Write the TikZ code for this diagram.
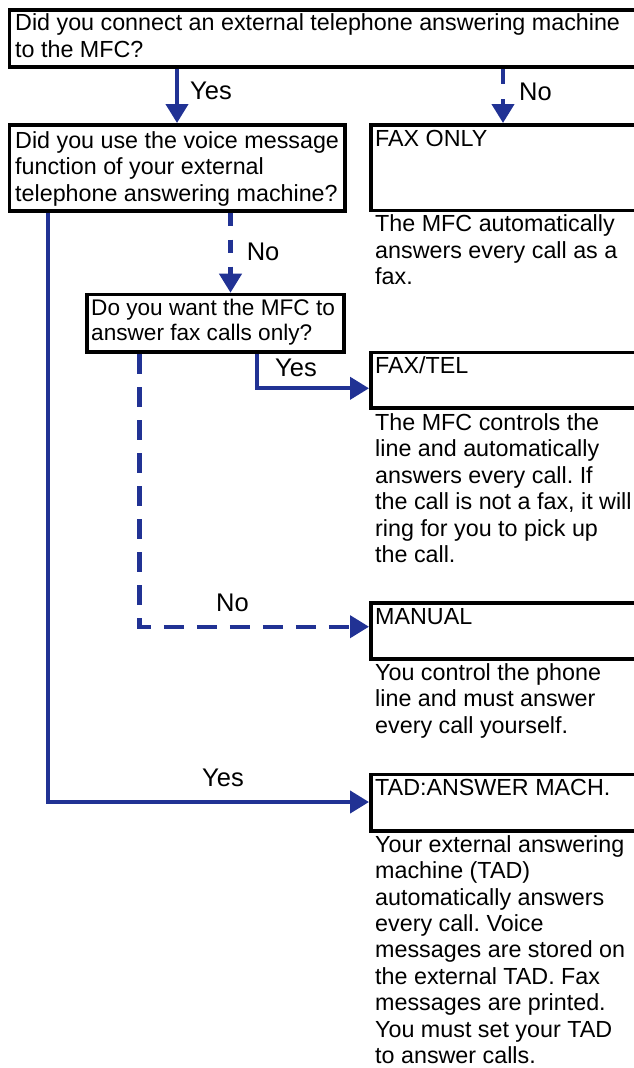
\documentclass[tikz,border=0pt]{standalone}
\usepackage{fontspec}
\setmainfont{Liberation Sans}
\usetikzlibrary{arrows.meta}
\definecolor{fblue}{RGB}{33,50,148}
\begin{document}
\begin{tikzpicture}[x=1pt,y=-1pt,
  box/.style={draw=black, line width=3.6pt, rectangle, inner sep=0pt, anchor=north west},
  txt/.style={inner sep=0pt, anchor=base west, align=left, font=\fontsize{23.3}{26.4}\selectfont\frenchspacing},
  lbl/.style={txt, font=\fontsize{25.5}{28}\selectfont},
  conn/.style={draw=fblue, line width=4.2pt, -{Triangle[length=19pt,width=22pt]}},
  dashconn/.style={conn, dash pattern=on 15pt off 15pt},
  longdash/.style={conn, dash pattern=on 20pt off 13pt},
]
\useasboundingbox (0,0) rectangle (634,1068);
\clip (0,0) rectangle (634,1068);
\fill[white] (0,0) rectangle (634,1068);

% boxes
\node[box, minimum width=689pt, minimum height=57.1pt] (q1) at (7.5,8.3) {};
\node[box, minimum width=335.4pt, minimum height=86.1pt] (q2) at (7.5,123) {};
\node[box, minimum width=327pt, minimum height=85.7pt] (rfax) at (369,123) {};
\node[box, minimum width=257.4pt, minimum height=57.7pt] (q3) at (85,292.7) {};
\node[box, minimum width=327pt, minimum height=55.7pt] (rtel) at (369,350.7) {};
\node[box, minimum width=327pt, minimum height=56.1pt] (rman) at (369,601) {};
\node[box, minimum width=327pt, minimum height=56.4pt] (rtad) at (369,772.7) {};

% texts (base anchor = baseline of the last line)
\node[txt] (q1t) at (15,57) {Did you connect an external telephone answering machine\\to the MFC?};
\node[txt] (q2t) at (15,201.3) {Did you use the voice message\\function of your external\\telephone answering machine?};
\node[txt, font=\fontsize{22.6}{25.5}\selectfont] (q3t) at (91,340.5) {Do you want the MFC to\\answer fax calls only?};
\node[txt] (faxt) at (375,146.7) {FAX ONLY};
\node[txt] (faxd) at (375,284.5) {The MFC automatically\\answers every call as a\\fax.};
\node[txt] (telt) at (375,373) {FAX/TEL};
\node[txt] (teld) at (375,562.5) {The MFC controls the\\line and automatically\\answers every call. If\\the call is not a fax, it will\\ring for you to pick up\\the call.};
\node[txt] (mant) at (375,624) {MANUAL};
\node[txt] (mand) at (375,733) {You control the phone\\line and must answer\\every call yourself.};
\node[txt] (tadt) at (375,795) {TAD:ANSWER MACH.};
\node[txt] (tadd) at (375,1063.5) {Your external answering\\machine (TAD)\\automatically answers\\every call. Voice\\messages are stored on\\the external TAD. Fax\\messages are printed.\\You must set your TAD\\to answer calls.};

% labels
\node[lbl] (l1) at (190,99.3) {Yes};
\node[lbl] (l2) at (519,100) {No};
\node[lbl] (l3) at (246.6,260) {No};
\node[lbl] (l4) at (275,376.7) {Yes};
\node[lbl] (l5) at (216,611.7) {No};
\node[lbl] (l6) at (202,786.7) {Yes};

% connectors
\coordinate (xa) at (177,0);
\coordinate (xb) at (503,0);
\coordinate (xc) at (230.5,0);
\coordinate (xd) at (257,0);
\coordinate (yd) at (0,388.3);
\coordinate (xe) at (139.5,0);
\coordinate (ye) at (0,626.7);
\coordinate (xf) at (48,0);
\coordinate (yf) at (0,802);

\draw[conn] (xa |- q1.south) -- (xa |- q2.north);
\draw[dashconn] (xb |- q1.south) -- (xb |- rfax.north);
\draw[conn, dash pattern=on 13pt off 14pt] (xc |- q2.south) -- (xc |- q3.north);
\draw[conn] (xd |- q3.south) -- (xd |- yd) -- (yd -| rtel.west);
\draw[longdash] (xe |- q3.south) -- (xe |- ye) -- (ye -| rman.west);
\draw[conn] (xf |- q2.south) -- (xf |- yf) -- (yf -| rtad.west);
\end{tikzpicture}
\end{document}
